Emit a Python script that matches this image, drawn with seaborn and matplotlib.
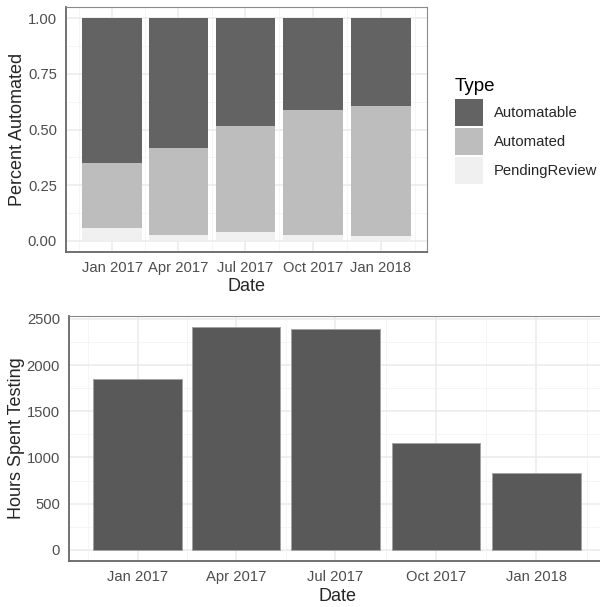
import numpy as np
import pandas as pd
import seaborn as sns
import matplotlib
matplotlib.use("Agg")
import matplotlib.pyplot as plt
import matplotlib.dates as mdates
from matplotlib.ticker import FixedLocator, FormatStrFormatter
from matplotlib.patches import Patch

# data
dates = ["2017-01-01", "2017-04-01", "2017-07-01", "2017-10-01", "2018-01-01"]
types = ["Automatable", "Automated", "PendingReview"]
pending = [0.060, 0.027, 0.039, 0.027, 0.024]
automated = [0.289, 0.391, 0.478, 0.562, 0.583]
automatable = [0.651, 0.582, 0.483, 0.411, 0.393]
hours = [1848, 2410, 2388, 1161, 836]

fills = {"Automatable": "#636363", "Automated": "#BDBDBD", "PendingReview": "#F0F0F0"}

TICK_COLOR = "#4D4D4D"
TICK_SIZE = 10.6
TITLE_SIZE = 13


def build_frames():
    d = pd.to_datetime(dates)
    num = mdates.date2num(d)
    share = pd.DataFrame({"Date": d, "num": num,
                          "PendingReview": pending,
                          "Automated": automated,
                          "Automatable": automatable})
    hrs = pd.DataFrame({"Date": d, "num": num, "Hours": hours})
    return share, hrs


def style_axis(ax, num):
    # ggplot-like date breaks with minor lines half way between
    step = np.diff(num)
    minors = list(num[:-1] + step / 2)
    minors = [num[0] - step[0] / 2] + minors + [num[-1] + step[-1] / 2]
    ax.xaxis.set_major_locator(FixedLocator(num))
    ax.xaxis.set_major_formatter(mdates.DateFormatter("%b %Y"))
    ax.xaxis.set_minor_locator(FixedLocator(minors))
    ax.set_axisbelow(True)
    ax.grid(which="major", color="#EBEBEB", lw=1.1)
    ax.grid(which="minor", color="#F4F4F4", lw=0.6)
    ax.tick_params(which="major", length=4, width=0.9, color="#333333",
                   labelsize=TICK_SIZE, labelcolor=TICK_COLOR, pad=2.5)
    ax.tick_params(which="minor", length=0)
    for side in ["top", "right"]:
        ax.spines[side].set_color("#8A8A8A")
        ax.spines[side].set_linewidth(0.8)
    for side in ["left", "bottom"]:
        ax.spines[side].set_color("#666666")
        ax.spines[side].set_linewidth(1.3)
    # 5% expansion around the bars (81 days wide)
    half = 40.5
    lo, hi = num[0] - half, num[-1] + half
    pad = (hi - lo) * 0.05
    ax.set_xlim(lo - pad, hi + pad)


def plot_shares(ax, share):
    order = ["PendingReview", "Automated", "Automatable"]
    cum = share[order].cumsum(axis=1)
    # draw largest cumulative first so smaller ones sit on top
    for t in reversed(order):
        tmp = pd.DataFrame({"num": share["num"], "top": cum[t]})
        sns.barplot(data=tmp, x="num", y="top", native_scale=True, width=0.9,
                    color=fills[t], saturation=1, errorbar=None,
                    linewidth=0, ax=ax)
    style_axis(ax, share["num"].values)
    ax.set_ylim(-0.05, 1.05)
    ax.yaxis.set_major_locator(FixedLocator([0, 0.25, 0.5, 0.75, 1.0]))
    ax.yaxis.set_minor_locator(FixedLocator([0.125, 0.375, 0.625, 0.875]))
    ax.yaxis.set_major_formatter(FormatStrFormatter("%.2f"))
    ax.set_xlabel("Date", fontsize=TITLE_SIZE, labelpad=2)
    ax.set_ylabel("Percent Automated", fontsize=TITLE_SIZE, labelpad=1.5)


def plot_hours(ax, hrs):
    sns.barplot(data=hrs, x="num", y="Hours", native_scale=True, width=0.9,
                color="#595959", saturation=1, errorbar=None,
                edgecolor="#A3A3A3", linewidth=0.7, ax=ax)
    style_axis(ax, hrs["num"].values)
    top = hrs["Hours"].max()
    ax.set_ylim(-0.05 * top, 1.05 * top)
    ax.yaxis.set_major_locator(FixedLocator([0, 500, 1000, 1500, 2000, 2500]))
    ax.yaxis.set_minor_locator(FixedLocator([250, 750, 1250, 1750, 2250]))
    ax.set_xlabel("Date", fontsize=TITLE_SIZE, labelpad=3)
    ax.set_ylabel("Hours Spent Testing", fontsize=TITLE_SIZE, labelpad=1.5)


def main():
    sns.set_theme(style="white")
    plt.rcParams["font.family"] = ["Liberation Sans", "DejaVu Sans"]

    share, hrs = build_frames()

    fig = plt.figure(figsize=(6.0, 6.07), dpi=100)
    ax1 = fig.add_axes([66 / 600, 1 - 252 / 607, 361 / 600, 245 / 607])
    ax2 = fig.add_axes([69 / 600, 1 - 561 / 607, 536 / 600, 245 / 607])

    plot_shares(ax1, share)
    plot_hours(ax2, hrs)

    # legend title drawn separately so the keys can sit tight together
    fig.text(455 / 600, 1 - 91 / 607, "Type", fontsize=13.5, ha="left",
             va="baseline", color="black")
    handles = [Patch(facecolor=fills[t], edgecolor="none") for t in types]
    fig.legend(handles, types, loc="upper left",
               bbox_to_anchor=(455 / 600, 1 - 99 / 607), frameon=False,
               fontsize=10.7, handlelength=1.88, handleheight=2.45,
               labelspacing=0.12, handletextpad=0.72,
               borderpad=0, borderaxespad=0)

    fig.savefig("out.png", dpi=100)


if __name__ == "__main__":
    main()
